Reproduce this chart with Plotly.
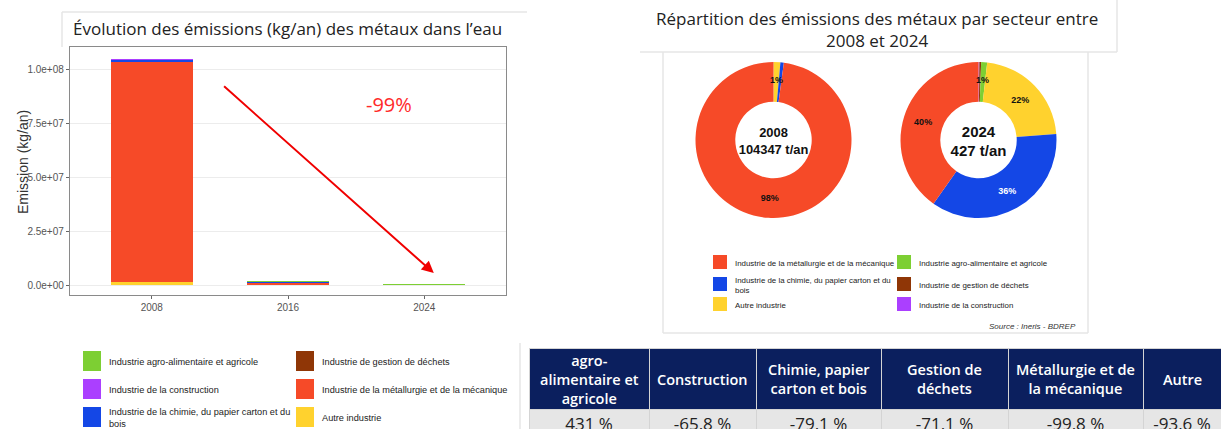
import math
import plotly.graph_objects as go

W, H = 1221, 429

YEARS = ["2008", "2016", "2024"]
SECTORS = [
    "Industrie agro-alimentaire et agricole",
    "Industrie de la construction",
    "Industrie de la chimie, du papier carton et du bois",
    "Industrie de gestion de déchets",
    "Industrie de la métallurgie et de la mécanique",
    "Autre industrie",
]
COLORS = ["#7dcf33", "#ab3fff", "#1447e6", "#8f3606", "#f64a28", "#ffd22e"]

# emissions (kg/an) per sector for 2008, 2016, 2024
AGRO = [1000, 3000, 5310]
CONSTRUCTION = [2340, 60000, 800]
CHIMIE = [735000, 250000, 153700]
DECHETS = [5190, 6000, 1500]
METALLURGIE = [102134000, 1100000, 171700]
AUTRE = [1469000, 90000, 94000]
SERIES = [AGRO, CONSTRUCTION, CHIMIE, DECHETS, METALLURGIE, AUTRE]

Y_TICKS = [0, 2.5e7, 5e7, 7.5e7, 1e8]

# pie order clockwise from 12 o'clock, and right legend order
PIE_ORDER = [1, 3, 0, 5, 2, 4]
PIE_LEGEND_ORDER = [4, 2, 5, 0, 3, 1]

TABLE_HEADERS = ["agro-<br>alimentaire et<br>agricole", "Construction", "Chimie, papier<br>carton et bois",
                 "Gestion de<br>déchets", "Métallurgie et de<br>la mécanique", "Autre"]
TABLE_VALUES = ["431 %", "-65,8 %", "-79,1 %", "-71,1 %", "-99,8 %", "-93,6 %"]
COL_W = [120, 107, 125, 127, 135, 78]

ARIAL = "Liberation Sans, Arial, sans-serif"
SANS = "Open Sans, Lato, sans-serif"


def px(x):
    return x / W


def py(y):
    return 1 - y / H


def note(x, y, text, size, color="#222", family=SANS, **kw):
    d = dict(x=px(x), y=py(y), xref="paper", yref="paper", text=text, showarrow=False,
             xanchor="center", yanchor="middle", font=dict(size=size, color=color, family=family))
    d.update(kw)
    return d


fig = go.Figure()
annotations = []

# stacked bars: first sector on top (ggplot order), so add bottom-most first
for i in reversed(range(len(SECTORS))):
    fig.add_trace(go.Bar(x=YEARS, y=SERIES[i], name=SECTORS[i], marker=dict(color=COLORS[i], line_width=0),
                         width=0.6, showlegend=False))

# donuts
for k, year_idx in enumerate([0, 2]):
    vals = [SERIES[i][year_idx] for i in PIE_ORDER]
    total = sum(vals)
    shares = [v / total for v in vals]
    texts = [f"{round(s * 100)}%" for s in shares]
    tpos = ["inside" if s >= 0.05 else "none" for s in shares]
    tcol = ["white" if PIE_ORDER[j] == 2 else "#111" for j in range(len(vals))]
    x0 = [695, 900][k]
    fig.add_trace(go.Pie(
        values=vals, labels=[SECTORS[i] for i in PIE_ORDER],
        marker=dict(colors=[COLORS[i] for i in PIE_ORDER], line=dict(width=0)),
        hole=0.49, sort=False, direction="clockwise", rotation=0,
        text=texts, textinfo="text", texttemplate="<b>%{text}</b>",
        textposition=tpos, insidetextorientation="horizontal",
        textfont=dict(size=9, color=tcol, family=ARIAL),
        domain=dict(x=[px(x0), px(x0 + 157)], y=[py(218), py(62)]),
        title=dict(text=f"<b>{YEARS[year_idx]}<br>{round(total / 1000)} t/an</b>", position="middle center",
                   font=dict(size=15, color="#111", family=ARIAL)),
        showlegend=False, hoverinfo="label+percent",
    ))
    # small slices (1-5 %): label placed on the ring at the slice's mid-angle
    cum = 0
    for s, t in zip(shares, texts):
        if 0.01 <= s < 0.05:
            ang = 2 * math.pi * (cum + s / 2)
            annotations.append(note(x0 + 78.5 + 60 * math.sin(ang), 140 - 60 * math.cos(ang),
                                    f"<b>{t}</b>", 9, color="#111", family=ARIAL))
        cum += s

# table (header labels drawn as annotations to get centred, vertically middled text)
fig.add_trace(go.Table(
    domain=dict(x=[px(529), 1], y=[0, py(348)]),
    columnwidth=COL_W,
    header=dict(values=[""] * len(TABLE_HEADERS), fill_color="#0b1f5e", height=61,
                line=dict(color="#d4d4d4", width=1)),
    cells=dict(values=[[v.replace(" ", "\u00a0")] for v in TABLE_VALUES], fill_color="#e6e6e6",
               align="center", height=34, line=dict(color="#d4d4d4", width=1),
               font=dict(color="#222", size=17, family=SANS)),
))

shapes = []

# faint card borders
line_c = "#e6e6e6"
for x0, y0, x1, y1 in [(62, 12, 527, 12), (62, 12, 62, 47), (520, 343, 520, 429),
                       (640, 52, 1117, 52), (1117, 0, 1117, 52),
                       (663, 52, 663, 333), (1088, 52, 1088, 333), (663, 333, 1088, 333)]:
    shapes.append(dict(type="line", xref="paper", yref="paper", x0=px(x0), y0=py(y0), x1=px(x1), y1=py(y1),
                       line=dict(color=line_c, width=1.5)))

# left legend
for j, i in enumerate(range(len(SECTORS))):
    col, row = j // 3, j % 3
    sx = [83, 296][col]
    cy = [361, 389, 417][row]
    shapes.append(dict(type="rect", xref="paper", yref="paper", x0=px(sx), x1=px(sx + 18),
                       y0=py(cy + 10), y1=py(cy - 10), fillcolor=COLORS[i], line=dict(width=0)))
    label = SECTORS[i].replace(" et du bois", " et du<br>bois")
    annotations.append(note(sx + 24, cy + 1, label, 9.2, family=ARIAL, xanchor="left", align="left"))

# right legend
for j, i in enumerate(PIE_LEGEND_ORDER):
    col, row = j // 3, j % 3
    sx = [713, 897][col]
    cy = [262, 284, 304][row]
    shapes.append(dict(type="rect", xref="paper", yref="paper", x0=px(sx), x1=px(sx + 14),
                       y0=py(cy + 7), y1=py(cy - 7), fillcolor=COLORS[i], line=dict(width=0)))
    label = SECTORS[i].replace(" et du bois", " et du<br>bois")
    annotations.append(note(sx + 20, cy + 1, label, 7.9, family=ARIAL, xanchor="left", align="left"))

# table header labels
cx = 529
for w, lab in zip(COL_W, TABLE_HEADERS):
    annotations.append(note(cx + w / 2, 379, lab, 14.5, color="white",
                            font=dict(size=14.5, color="white", family=SANS, weight=600)))
    cx += w

annotations += [
    note(287, 28, "Évolution des émissions (kg/an) des métaux dans l’eau", 17),
    note(877, 29, "Répartition des émissions des métaux par secteur entre<br>2008 et 2024", 17),
    note(23, 162, "Emission (kg/an)", 14, color="#333", family=ARIAL, textangle=-90),
    note(1078, 326, "<i>Source : Ineris - BDREP</i>", 8, color="#333", family=ARIAL, xanchor="right"),
    note(389, 104, "-99%", 20, color="#ff2a2a"),
    # trend arrow
    dict(x=2.07, y=5.5e6, ax=0.52, ay=9.26e7, xref="x", yref="y", axref="x", ayref="y",
         text="", showarrow=True, arrowhead=2, arrowsize=1.2, arrowwidth=2, arrowcolor="#f00000"),
]

fig.update_layout(
    width=W, height=H, margin=dict(l=0, r=0, t=0, b=0),
    paper_bgcolor="white", plot_bgcolor="white",
    barmode="stack", showlegend=False,
    shapes=shapes, annotations=annotations,
    xaxis=dict(domain=[px(70), px(506)], range=[-0.6, 2.6], type="category",
               showline=True, mirror=True, linecolor="#8a8a8a", linewidth=1.3,
               ticks="outside", ticklen=3, tickcolor="#666", showgrid=False,
               tickfont=dict(size=10, color="#555", family=ARIAL)),
    yaxis=dict(domain=[py(295), py(47)], range=[-4.63e6, 1.102e8],
               showline=True, mirror=True, linecolor="#8a8a8a", linewidth=1.3,
               tickvals=Y_TICKS, ticktext=[f"{v:.1e}" for v in Y_TICKS],
               ticks="outside", ticklen=3, tickcolor="#666",
               gridcolor="#ececec", zeroline=False,
               tickfont=dict(size=10, color="#555", family=ARIAL)),
)

fig.write_html("out.html", config={"displayModeBar": False},
               post_script="document.body.style.margin='0';")
